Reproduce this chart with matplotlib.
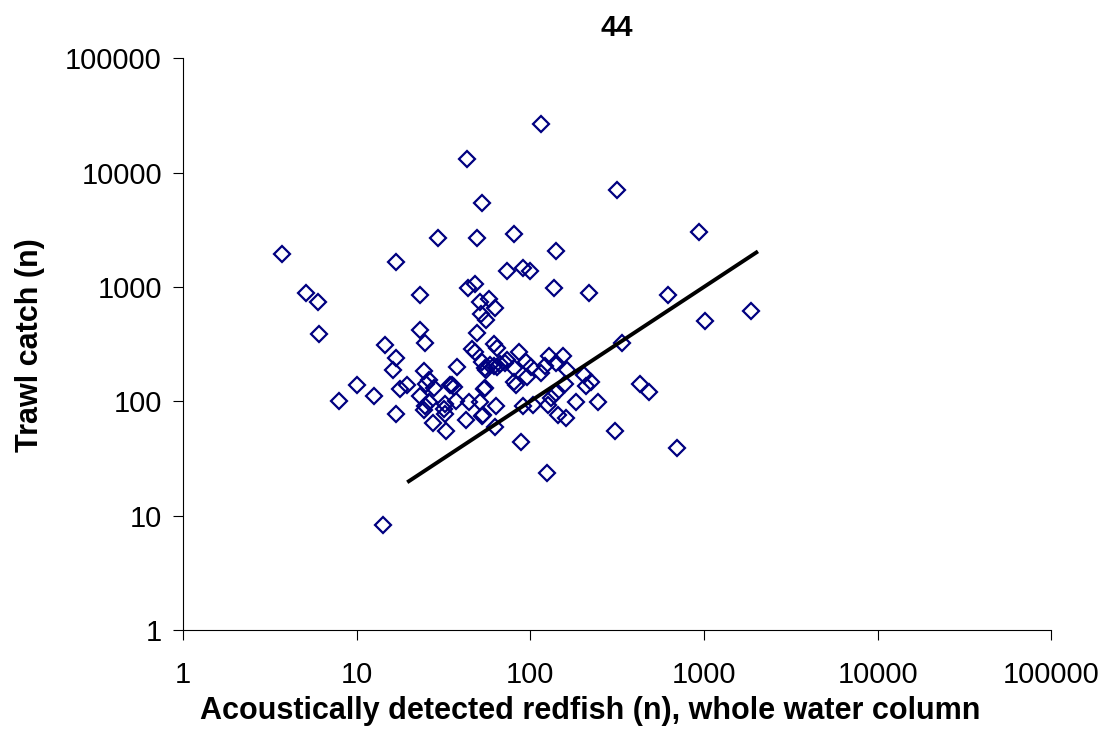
import numpy as np
import matplotlib.pyplot as plt

plt.rcParams['font.family'] = ['Liberation Sans', 'DejaVu Sans']

# acoustically detected redfish (n) vs trawl catch (n), station 44
acoustic = [115, 43, 317, 52.5, 931, 81, 29.4, 49.4, 141, 3.7,
            16.8, 90.8, 73.8, 99, 137, 43.8, 48.3, 218, 5.15, 23.3,
            620, 5.96, 51.2, 57.6, 62.4, 1870, 52, 55.3, 1017, 23.3,
            6.1, 49.4, 339, 24.7, 14.5, 61.8, 64.3, 46.4, 48, 86,
            128, 154, 16.8, 73.8, 52.5, 94, 141, 62, 58.4, 66.7,
            71.4, 64, 38.1, 80.6, 101, 121, 54.6, 16.3, 24.5, 55.9,
            163, 115, 204, 95.5, 26.1, 81, 225, 25.2, 83, 158,
            426, 10, 19.6, 34.4, 35.4, 36.5, 208, 27.8, 54.6, 54,
            17.7, 482, 141, 12.6, 23.3, 131, 7.9, 37.2, 26, 44.2,
            51.2, 183, 245, 32.2, 32, 127, 103, 24.9, 63.9, 90.8,
            24.4, 16.8, 32.2, 53.5, 52.5, 144, 160, 42.9, 27.5, 63,
            32.9, 309, 88, 698, 125, 14.2]
trawl = [26500, 13000, 7000, 5400, 3000, 2900, 2700, 2700, 2050, 1950,
         1640, 1450, 1380, 1370, 970, 970, 1050, 890, 880, 850,
         850, 740, 740, 790, 650, 620, 575, 513, 500, 420,
         384, 392, 321, 321, 308, 314, 294, 284, 271, 271,
         248, 248, 237, 229, 221, 221, 214, 205, 208, 210,
         215, 200, 198, 194, 198, 203, 194, 187, 185, 187,
         187, 178, 169, 164, 153, 148, 148, 143, 139, 143,
         141, 138, 139, 139, 139, 133, 136, 130, 130, 128,
         127, 121, 117, 112, 112, 106, 100, 100, 99, 98,
         98, 98, 98, 95, 85, 93, 93, 91, 91, 91,
         84, 78, 78, 76, 74, 76, 72, 68, 65, 60,
         55, 55, 44, 39, 23.7, 8.3]

# 1:1 trend line
fit_x = [20, 2000]
fit_y = [20, 2000]

ticks = [1, 10, 100, 1000, 10000, 100000]
tick_labels = ['1', '10', '100', '1000', '10000', '100000']

fig = plt.figure(figsize=(11.08, 7.36), dpi=100)
ax = fig.add_axes([0.165, 0.144, 0.784, 0.777])

ax.plot(acoustic, trawl, linestyle='none', marker='D', markersize=8,
        markerfacecolor='none', markeredgecolor='#000080', markeredgewidth=1.6)
ax.plot(fit_x, fit_y, color='black', linewidth=2.8)

ax.set_xscale('log')
ax.set_yscale('log')
ax.set_xlim(1, 100000)
ax.set_ylim(1, 100000)
ax.set_xticks(ticks)
ax.set_xticklabels(tick_labels)
ax.set_yticks(ticks)
ax.set_yticklabels(tick_labels)
ax.minorticks_off()
ax.tick_params(axis='both', which='major', direction='out', length=7,
               width=0.8, labelsize=21, pad=8)
ax.tick_params(axis='x', pad=15)
ax.spines['top'].set_visible(False)
ax.spines['right'].set_visible(False)

ax.set_title('44', fontsize=21, fontweight='bold', pad=16)
ax.set_xlabel('Acoustically detected redfish (n), whole water column',
              fontsize=22, fontweight='bold')
ax.xaxis.set_label_coords(0.4695, -0.115)
ax.set_ylabel('Trawl catch (n)', fontsize=22, fontweight='bold')
ax.yaxis.set_label_coords(-0.159, 0.498)

fig.savefig('out.png', dpi=100)
